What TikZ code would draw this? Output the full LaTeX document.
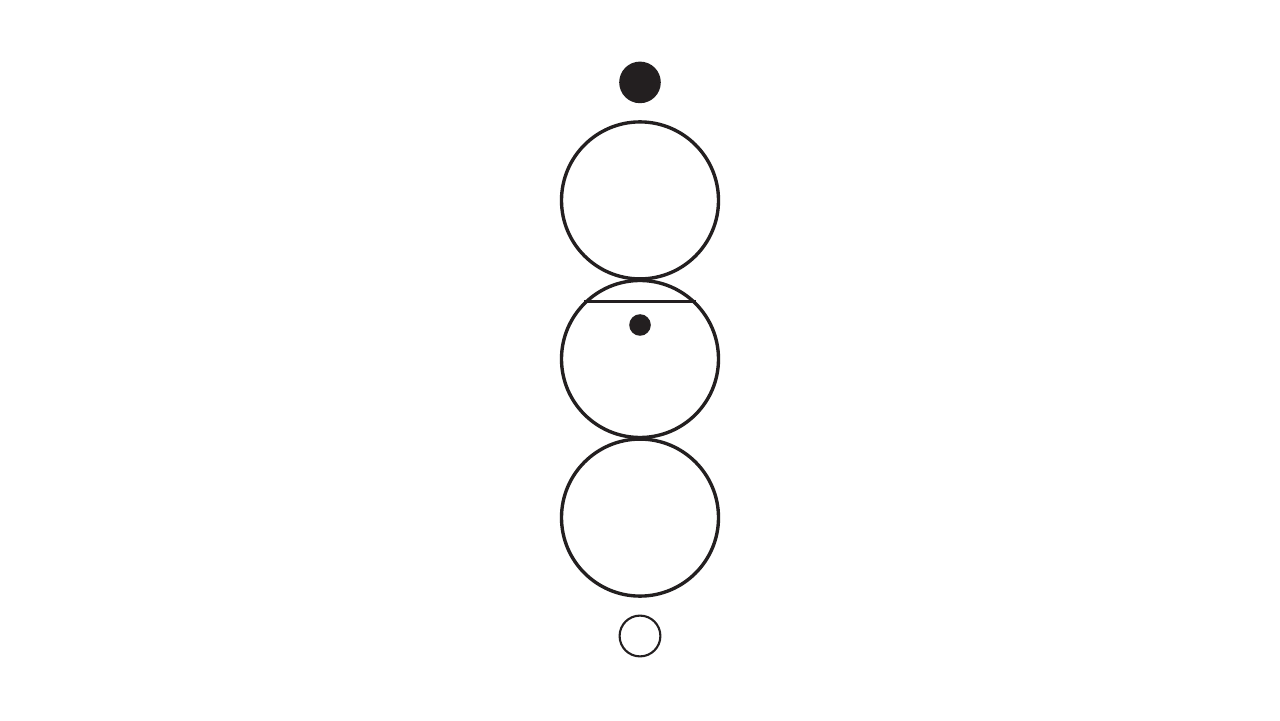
\documentclass[tikz,border=0pt]{standalone}
\usetikzlibrary{positioning}
\definecolor{ink}{HTML}{231F20}
\begin{document}
\begin{tikzpicture}[
  bigball/.style={circle, draw=ink, line width=2.4pt, inner sep=0pt, minimum size=3.925cm},
  dotball/.style={circle, fill=ink, inner sep=0pt},
  ringball/.style={circle, draw=ink, line width=1.5pt, inner sep=0pt, minimum size=1.02cm}
]
  \useasboundingbox (0,0) rectangle (32,18);
  \node[dotball, minimum size=1.04cm] (topdot) at (16,15.94) {};
  \node[bigball] (upper) at (16,12.99) {};
  \node[bigball] (middle) at (16,9.025) {};
  \node[bigball] (lower) at (16,5.06) {};
  \node[ringball] (ring) at (16,2.1) {};
  \draw[ink, line width=2.3pt] (middle.134) -- (middle.46);
  \node[dotball, minimum size=0.54cm] (innerdot) at (16,9.875) {};
\end{tikzpicture}
\end{document}
